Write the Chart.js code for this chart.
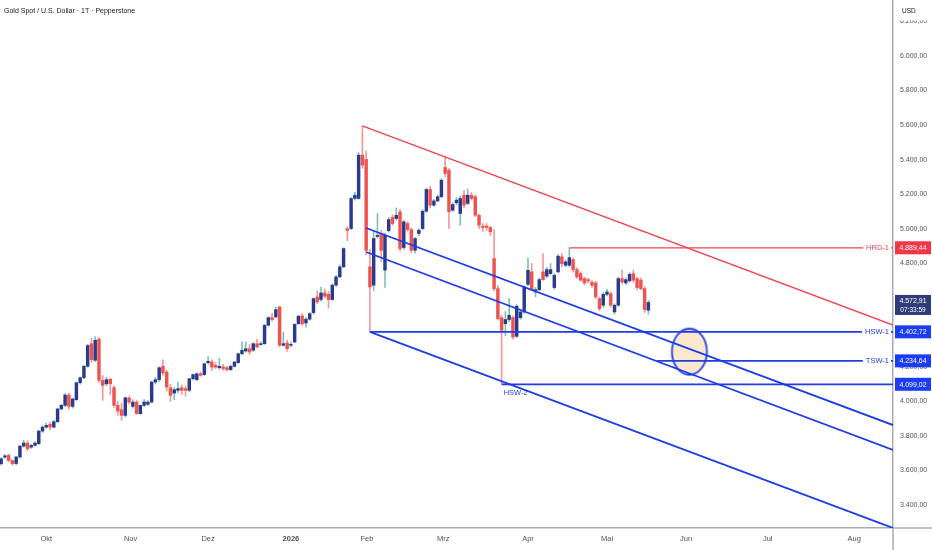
<!DOCTYPE html>
<html>
<head>
<meta charset="utf-8">
<script src="https://cdn.jsdelivr.net/npm/chart.js@4/dist/chart.umd.min.js"></script>
<style>
  html, body { margin: 0; padding: 0; background: #ffffff; }
  #goldChart { display: block; }
</style>
</head>
<body>
<canvas id="goldChart" width="932" height="550"></canvas>
<script>
// daily candles (oldest first)
const opens = [
  3639,3677,3687,3658,3640,3678,3741,3759,3735,3745,3755,3828,3851,3867,3851,3882,3956,3977,4037,3971,
  4010,4108,4137,4203,4334,4238,4361,4122,4102,4128,4079,3977,3952,3919,4019,3971,3996,3929,3977,3983,
  3996,4112,4126,4203,4170,4079,4048,4064,4079,4074,4064,4131,4126,4160,4155,4224,4228,4209,4195,4199,
  4195,4184,4203,4224,4276,4292,4305,4296,4334,4329,4334,4441,4485,4489,4547,4325,4338,4325,4344,4450,
  4495,4454,4476,4514,4605,4590,4628,4620,4590,4673,4721,4779,5000,5001,5175,5175,5426,5401,4779,4673,
  4955,4972,4760,4988,5065,5059,5098,4891,5030,4995,4875,4972,5001,5101,5227,5136,5161,5185,5355,5339,
  5107,5150,5088,5194,5146,5194,5185,5078,5015,5015,5007,4827,4653,4485,4450,4474,4485,4377,4485,4518,
  4678,4750,4634,4647,4750,4725,4740,4659,4750,4837,4788,4788,4821,4763,4740,4711,4705,4690,4686,4595,
  4557,4620,4624,4518,4557,4711,4686,4698,4740,4711,4702,4653,4528
];
const highs = [
  3675,3692,3695,3662,3683,3745,3775,3772,3752,3765,3832,3860,3875,3880,3890,3960,3985,4045,4048,4020,
  4112,4142,4210,4330,4365,4375,4370,4150,4140,4135,4090,4000,3990,4025,4030,4010,4005,3980,4010,4005,
  4118,4140,4200,4240,4180,4100,4080,4110,4095,4090,4135,4160,4165,4170,4222,4260,4240,4225,4250,4215,
  4205,4210,4232,4280,4345,4345,4330,4340,4360,4345,4445,4490,4510,4545,4550,4400,4355,4345,4450,4500,
  4510,4485,4515,4600,4640,4660,4650,4635,4680,4730,4790,4890,5011,5180,5210,5440,5595,5450,4880,4990,
  5088,4990,4975,5065,5080,5120,5110,5050,5040,5005,4950,5000,5110,5235,5245,5170,5195,5290,5420,5350,
  5150,5180,5190,5220,5230,5210,5195,5085,5030,5030,5015,4995,4670,4500,4520,4595,4495,4560,4530,4670,
  4830,4798,4660,4715,4856,4775,4798,4740,4850,4856,4820,4889.44,4830,4775,4750,4720,4712,4700,4695,4605,
  4630,4650,4635,4565,4720,4760,4715,4745,4760,4720,4715,4665,4585
];
const lows = [
  3630,3670,3650,3630,3634,3672,3735,3715,3728,3740,3750,3820,3845,3835,3845,3878,3950,3970,3955,3960,
  4005,4100,4130,4198,4225,4230,4110,4006,4090,4040,3965,3920,3890,3910,3985,3960,3925,3925,3970,3975,
  3990,4100,4115,4150,4060,4000,4010,4050,4040,4030,4055,4125,4120,4145,4150,4215,4180,4190,4185,4180,
  4175,4178,4198,4220,4270,4285,4270,4290,4310,4325,4330,4435,4465,4485,4315,4320,4290,4315,4340,4445,
  4440,4430,4470,4505,4565,4580,4600,4540,4585,4665,4715,4775,4930,4995,5165,5170,5350,4850,4402.72,4640,
  4945,4810,4660,4980,5020,5050,4870,4880,4985,4860,4860,4960,4995,5095,5120,5130,5155,5180,5300,5001,
  5100,5140,5020,5120,5140,5165,5070,5000,4985,4990,4960,4640,4470,4099.02,4380,4460,4360,4370,4475,4510,
  4670,4640,4605,4640,4700,4715,4735,4650,4745,4779,4780,4780,4750,4710,4695,4675,4685,4660,4595,4525,
  4545,4610,4545,4505,4550,4680,4675,4690,4690,4645,4645,4515,4505
];
const closes = [
  3668,3685,3658,3639,3678,3741,3759,3726,3745,3759,3828,3851,3861,3851,3882,3956,3977,4037,3971,4014,
  4108,4137,4203,4323,4242,4354,4122,4093,4126,4102,3977,3944,3919,4021,3996,3996,3929,3977,3996,3996,
  4112,4126,4195,4164,4083,4035,4068,4074,4064,4064,4131,4155,4160,4151,4218,4232,4199,4199,4203,4190,
  4184,4203,4228,4276,4296,4305,4286,4334,4315,4334,4441,4485,4474,4531,4325,4334,4305,4330,4446,4493,
  4450,4476,4508,4595,4576,4628,4609,4590,4673,4721,4779,4885,4990,5175,5194,5426,5368,4875,4663,4943,
  4962,4875,4962,5053,5030,5078,4885,5040,4995,4875,4943,4991,5101,5227,5136,5161,5185,5281,5320,5098,
  5140,5165,5175,5136,5194,5175,5078,5020,5007,5007,4982,4653,4479,4412,4474,4499,4373,4551,4518,4663,
  4759,4647,4647,4705,4705,4763,4763,4730,4841,4798,4808,4833,4763,4721,4702,4686,4698,4672,4605,4537,
  4620,4634,4557,4557,4711,4692,4705,4736,4702,4659,4653,4532,4572.91
];

// axis ticks
const monthTicks  = [12, 34.4, 55, 77, 97.2, 117.5, 140, 161, 182, 203.7, 226.7];
const monthLabels = ['Okt', 'Nov', 'Dez', '2026', 'Feb', 'Mrz', 'Apr', 'Mai', 'Jun', 'Jul', 'Aug'];
const priceTicks  = [3400, 3600, 3800, 4000, 4200, 4400, 4600, 4800, 5000, 5200, 5400, 5600, 5800, 6000, 6200];

// drawings: [barIndex, price] pairs
const resistanceLine = [[96, 5595], [237, 4442]];
const channelUpper   = [[97, 5004], [237, 3863]];
const channelMiddle  = [[97, 4865], [237, 3718.5]];
const channelLower   = [[98, 4402.72], [237, 3266.8]];
const levelNames  = ['HRD-1', 'HSW-1', 'TSW-1', 'HSW-2'];
const levelPrices = [4889.44, 4402.72, 4234.64, 4099.02];
const levelStarts = [151, 98, 174.3, 133];
const targetZone  = [182.9, 4288];
const lastPrice   = 4572.91;
const countdown   = '07:33:59';

const colorUp       = '#2c3a8e';
const colorDown     = '#ef5350';
const colorUpWick   = '#7cc3b6';
const colorDownWick = '#f29a9a';
const colorRed      = '#ef4452';
const colorBlue     = '#1f3de4';
const colorText     = '#50535e';
const fontFamily    = '"Liberation Sans", Arial, sans-serif';

function fmt(v) {
  const parts = v.toFixed(2).split('.');
  return parts[0].replace(/\B(?=(\d{3})+(?!\d))/g, '.') + ',' + parts[1];
}

const idx = closes.map((c, i) => i);
const isUp = idx.map(i => closes[i] >= opens[i]);

const toPts = arr => arr.map(p => ({ x: p[0], y: p[1] }));

// ellipse for the target zone, used as a point image
const zone = document.createElement('canvas');
zone.width = 40; zone.height = 50;
{
  const c = zone.getContext('2d');
  c.beginPath();
  c.ellipse(20, 25, 17.5, 23, 0, 0, Math.PI * 2);
  c.fillStyle = 'rgba(247, 200, 140, 0.42)';
  c.fill();
  c.lineWidth = 1.8;
  c.strokeStyle = colorBlue;
  c.stroke();
}

const lineSet = (pts, color, width) => ({
  type: 'line',
  data: toPts(pts),
  borderColor: color,
  borderWidth: width,
  pointRadius: 0,
  fill: false,
  order: 1
});

const datasets = [
  {
    type: 'bar',
    data: idx.map(i => ({ x: i, y: [lows[i], highs[i]] })),
    backgroundColor: idx.map(i => isUp[i] ? colorUpWick : colorDownWick),
    barThickness: 1,
    grouped: false,
    order: 4
  },
  {
    type: 'bar',
    data: idx.map(i => ({ x: i, y: [opens[i], closes[i]] })),
    backgroundColor: idx.map(i => isUp[i] ? colorUp : colorDown),
    barThickness: 2.8,
    grouped: false,
    order: 3
  },
  {
    type: 'line',
    data: [{ x: targetZone[0], y: targetZone[1] }],
    showLine: false,
    pointStyle: zone,
    pointRadius: 20,
    order: 2
  },
  lineSet(resistanceLine, colorRed, 1.4),
  lineSet(channelUpper, colorBlue, 1.8),
  lineSet(channelMiddle, colorBlue, 1.8),
  lineSet(channelLower, colorBlue, 1.8)
];
levelNames.forEach((n, k) => {
  datasets.push(lineSet([[levelStarts[k], levelPrices[k]], [237, levelPrices[k]]],
    k === 0 ? colorRed : colorBlue, k === 0 ? 1.3 : 1.8));
});

const overlay = {
  id: 'overlay',
  afterDraw(chart) {
    const ctx = chart.ctx;
    const ys = chart.scales.y;
    const xs = chart.scales.x;
    const axisX = chart.chartArea.right;
    const axisY = chart.chartArea.bottom;
    ctx.save();

    // axis lines continue into the corner
    ctx.strokeStyle = '#a9acb3';
    ctx.lineWidth = 1.5;
    ctx.beginPath();
    ctx.moveTo(axisX, axisY); ctx.lineTo(axisX, 550);
    ctx.moveTo(axisX, axisY); ctx.lineTo(932, axisY);
    ctx.stroke();

    ctx.textBaseline = 'middle';

    // title
    ctx.font = '7px ' + fontFamily;
    ctx.fillStyle = '#131722';
    ctx.textAlign = 'left';
    ctx.fillText('Gold Spot / U.S. Dollar \u00b7 1T \u00b7 Pepperstone', 4, 11);

    // currency box
    ctx.fillStyle = '#ffffff';
    ctx.fillRect(axisX + 1, 0, 932 - axisX - 1, 20.5);
    ctx.fillStyle = '#131722';
    ctx.font = '6.5px ' + fontFamily;
    ctx.fillText('USD', axisX + 9, 11);

    // level labels and price tags
    levelNames.forEach((name, k) => {
      const y = ys.getPixelForValue(levelPrices[k]);
      const col = k === 0 ? '#f23645' : '#1a3cf2';
      ctx.font = '7.5px ' + fontFamily;
      if (name !== 'HSW-2') {
        const w = ctx.measureText(name).width;
        ctx.fillStyle = '#ffffff';
        ctx.fillRect(axisX - 4 - w - 3, y - 5, w + 5, 10);
        ctx.fillStyle = k === 0 ? colorRed : colorBlue;
        ctx.textAlign = 'right';
        ctx.fillText(name, axisX - 4, y);
      } else {
        ctx.fillStyle = colorBlue;
        ctx.textAlign = 'left';
        ctx.fillText(name, xs.getPixelForValue(levelStarts[k]) + 2, y + 9);
      }
      ctx.fillStyle = col;
      ctx.fillRect(axisX + 2, y - 6.5, 932 - axisX - 3, 13);
      ctx.fillStyle = '#ffffff';
      ctx.textAlign = 'center';
      ctx.font = '7px ' + fontFamily;
      ctx.fillText(fmt(levelPrices[k]), (axisX + 933) / 2, y + 0.5);
    });

    // last price tag
    const yp = ys.getPixelForValue(lastPrice);
    ctx.fillStyle = '#2f3c78';
    ctx.fillRect(axisX + 2, yp - 7.5, 932 - axisX - 3, 20);
    ctx.fillStyle = '#ffffff';
    ctx.textAlign = 'center';
    ctx.font = '7px ' + fontFamily;
    ctx.fillText(fmt(lastPrice), (axisX + 933) / 2, yp - 1);
    ctx.font = '6.5px ' + fontFamily;
    ctx.fillText(countdown, (axisX + 933) / 2, yp + 7.5);
    ctx.restore();
  }
};

new Chart(document.getElementById('goldChart'), {
  type: 'bar',
  data: { datasets },
  options: {
    responsive: false,
    animation: false,
    events: [],
    layout: { padding: 0, autoPadding: false },
    plugins: { legend: { display: false }, tooltip: { enabled: false } },
    scales: {
      x: {
        type: 'linear',
        min: -0.3,
        max: 237,
        offset: false,
        grid: { display: false, drawTicks: false },
        border: { display: true, color: '#a9acb3', width: 1.5 },
        afterFit: s => {
          s.height = 22;
          s.paddingLeft = 0; s.paddingRight = 0;
        },
        afterBuildTicks: s => { s.ticks = monthTicks.map(v => ({ value: v })); },
        ticks: {
          autoSkip: false,
          maxRotation: 0,
          padding: 6,
          color: colorText,
          font: c => ({ family: fontFamily, size: 7.5, weight: c.index === 3 ? 'bold' : 'normal' }),
          callback: (v, i) => monthLabels[i]
        }
      },
      y: {
        type: 'linear',
        position: 'right',
        min: 3266.8,
        max: 6324.3,
        grid: { display: false, drawTicks: false },
        border: { display: true, color: '#a9acb3', width: 1.5 },
        afterFit: s => {
          s.width = 39;
          s.paddingTop = 0; s.paddingBottom = 0;
        },
        afterBuildTicks: s => { s.ticks = priceTicks.map(v => ({ value: v })); },
        ticks: {
          padding: 7,
          color: colorText,
          font: { family: fontFamily, size: 7 },
          callback: v => fmt(v)
        }
      }
    }
  },
  plugins: [overlay]
});
</script>
</body>
</html>
